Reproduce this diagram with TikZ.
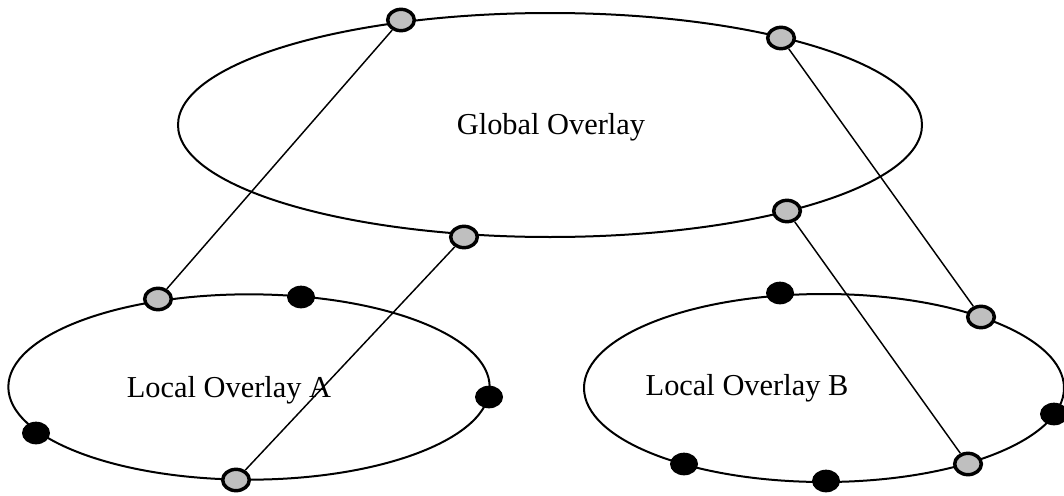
\documentclass[tikz,border=0pt]{standalone}
\usepackage{fontspec}
\setmainfont{Liberation Serif}
\usetikzlibrary{shapes.geometric}
\tikzset{
  overlay/.style={draw, line width=1.5pt, ellipse, inner sep=0pt},
  peer/.style={draw, ellipse, line width=2.6pt, fill=black!25, minimum width=20pt, minimum height=16pt, inner sep=0pt},
  host/.style={ellipse, fill=black, minimum width=21pt, minimum height=17pt, inner sep=0pt},
  link/.style={line width=1.1pt}
}
\begin{document}
\begin{tikzpicture}[x=0.75pt, y=-0.75pt]
\useasboundingbox (0,0) rectangle (1064,496);
\node[overlay, minimum width=558pt, minimum height=168pt] (g) at (550,125) {};
\node[overlay, minimum width=361pt, minimum height=139pt] (a) at (249,387) {};
\node[overlay, minimum width=360pt, minimum height=141pt] (b) at (824,388) {};
\node[font=\fontsize{22.8}{27}\selectfont] (gt) at (551,127) {Global Overlay};
\node[font=\fontsize{22.8}{27}\selectfont] (at) at (229,390) {Local Overlay A};
\node[font=\fontsize{22.8}{27}\selectfont] (bt) at (747,388) {Local Overlay B};
% gray peers
\node[peer] (g1) at (401,20) {};
\node[peer] (g2) at (781,38) {};
\node[peer] (g3) at (787,211) {};
\node[peer] (g4) at (464,237) {};
\node[peer] (a1) at (158,299) {};
\node[peer] (a2) at (236,480) {};
\node[peer] (b1) at (981,317) {};
\node[peer] (b2) at (968,464) {};
% black hosts
\node[host] (a3) at (301,297) {};
\node[host] (a4) at (489,397) {};
\node[host] (a5) at (36,433) {};
\node[host] (b3) at (780,293) {};
\node[host] (b4) at (1054,414) {};
\node[host] (b5) at (684,464) {};
\node[host] (b6) at (826,481) {};
\draw[link] (g1) -- (a1);
\draw[link] (g4) -- (a2);
\draw[link] (g2) -- (b1);
\draw[link] (g3) -- (b2);
\end{tikzpicture}
\end{document}
